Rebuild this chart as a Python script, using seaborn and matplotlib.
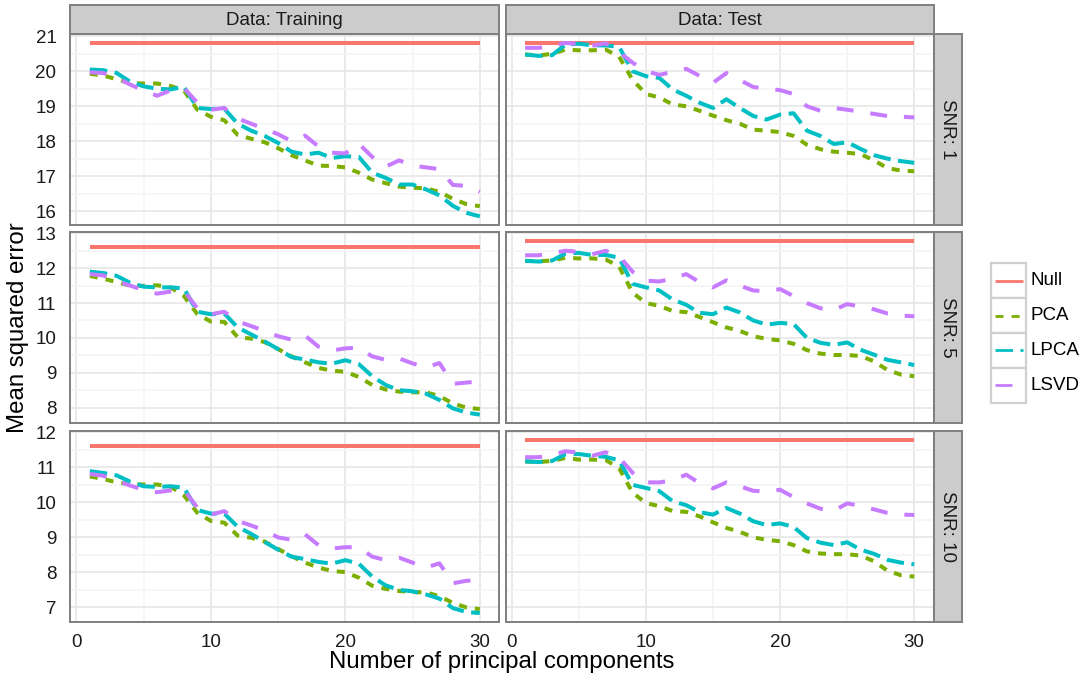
import numpy as np
import pandas as pd
import matplotlib
matplotlib.use("Agg")
import matplotlib.pyplot as plt
import seaborn as sns
from matplotlib.patches import Rectangle
from matplotlib.lines import Line2D

# ---------------- data ----------------
components = list(range(1, 31))
methods = ["Null", "PCA", "LPCA", "LSVD"]
data_sets = ["Training", "Test"]
snr_levels = [1, 5, 10]

null_train = [20.80, 12.62, 11.60]
null_test = [20.80, 12.78, 11.79]

# SNR 1
pca_train_1 = [19.93, 19.88, 19.77, 19.66, 19.65, 19.65, 19.58, 19.45, 18.90, 18.70,
               18.60, 18.18, 18.07, 17.97, 17.80, 17.60, 17.45, 17.30, 17.29, 17.25,
               17.10, 16.90, 16.80, 16.70, 16.67, 16.65, 16.55, 16.35, 16.20, 16.14]
lpca_train_1 = [20.05, 20.03, 19.95, 19.70, 19.57, 19.50, 19.48, 19.56, 18.95, 18.92,
                18.93, 18.50, 18.30, 18.15, 17.95, 17.70, 17.62, 17.67, 17.52, 17.57,
                17.55, 17.10, 16.95, 16.76, 16.76, 16.62, 16.45, 16.15, 15.95, 15.85]
lsvd_train_1 = [19.97, 19.95, 19.82, 19.62, 19.45, 19.30, 19.45, 19.52, 19.10, 18.90,
                18.95, 18.65, 18.50, 18.35, 18.20, 18.00, 18.16, 17.85, 17.67, 17.65,
                17.93, 17.55, 17.27, 17.45, 17.30, 17.25, 17.20, 16.75, 16.72, 16.55]
pca_test_1 = [20.48, 20.45, 20.50, 20.62, 20.60, 20.60, 20.62, 20.42, 19.76, 19.35,
              19.25, 19.05, 19.00, 18.87, 18.73, 18.60, 18.50, 18.33, 18.30, 18.26,
              18.15, 17.90, 17.77, 17.70, 17.67, 17.63, 17.45, 17.23, 17.16, 17.14]
lpca_test_1 = [20.48, 20.44, 20.46, 20.76, 20.79, 20.74, 20.74, 20.70, 20.00, 19.86,
               19.81, 19.48, 19.30, 19.10, 18.95, 19.20, 18.95, 18.72, 18.62, 18.76,
               18.80, 18.30, 18.15, 17.92, 17.97, 17.78, 17.60, 17.50, 17.43, 17.38]
lsvd_test_1 = [20.67, 20.67, 20.73, 20.81, 20.78, 20.73, 20.80, 20.55, 20.25, 20.00,
               19.90, 19.98, 20.07, 19.87, 19.67, 19.95, 19.75, 19.55, 19.50, 19.46,
               19.35, 19.00, 18.87, 18.95, 18.90, 18.84, 18.78, 18.72, 18.70, 18.68]

# SNR 5
pca_train_5 = [11.78, 11.70, 11.60, 11.50, 11.49, 11.51, 11.45, 11.20, 10.68, 10.47,
               10.46, 10.02, 9.98, 9.88, 9.68, 9.47, 9.30, 9.14, 9.06, 9.03,
               8.88, 8.65, 8.52, 8.46, 8.44, 8.44, 8.33, 8.12, 8.00, 7.96]
lpca_train_5 = [11.90, 11.86, 11.78, 11.58, 11.47, 11.45, 11.45, 11.42, 10.75, 10.68,
                10.70, 10.30, 10.10, 9.90, 9.68, 9.45, 9.38, 9.30, 9.26, 9.36,
                9.25, 8.90, 8.65, 8.50, 8.47, 8.40, 8.22, 7.98, 7.86, 7.80]
lsvd_train_5 = [11.83, 11.79, 11.63, 11.50, 11.37, 11.27, 11.33, 11.35, 10.85, 10.68,
                10.75, 10.47, 10.34, 10.20, 10.05, 9.95, 10.07, 9.75, 9.64, 9.70,
                9.72, 9.47, 9.37, 9.41, 9.27, 9.15, 9.28, 8.68, 8.72, 8.75]
pca_test_5 = [12.21, 12.20, 12.22, 12.30, 12.28, 12.28, 12.25, 12.05, 11.30, 11.00,
              10.92, 10.77, 10.74, 10.60, 10.45, 10.30, 10.20, 10.05, 9.97, 9.93,
              9.83, 9.65, 9.55, 9.51, 9.51, 9.48, 9.33, 9.08, 8.95, 8.90]
lpca_test_5 = [12.21, 12.19, 12.22, 12.42, 12.44, 12.38, 12.38, 12.30, 11.55, 11.45,
               11.36, 11.10, 10.95, 10.72, 10.68, 10.87, 10.73, 10.50, 10.38, 10.43,
               10.40, 10.00, 9.86, 9.80, 9.87, 9.66, 9.52, 9.37, 9.30, 9.22]
lsvd_test_5 = [12.37, 12.37, 12.43, 12.50, 12.47, 12.40, 12.50, 12.35, 11.90, 11.64,
               11.62, 11.70, 11.83, 11.60, 11.45, 11.65, 11.50, 11.36, 11.34, 11.40,
               11.20, 11.00, 10.85, 10.80, 10.97, 10.90, 10.82, 10.70, 10.64, 10.62]

# SNR 10
pca_train_10 = [10.74, 10.67, 10.57, 10.52, 10.51, 10.51, 10.45, 10.20, 9.70, 9.47,
                9.42, 9.05, 8.99, 8.88, 8.67, 8.46, 8.28, 8.14, 8.04, 8.01,
                7.85, 7.62, 7.53, 7.47, 7.44, 7.43, 7.32, 7.13, 7.00, 6.95]
lpca_train_10 = [10.89, 10.84, 10.77, 10.59, 10.46, 10.44, 10.46, 10.42, 9.78, 9.68,
                 9.68, 9.30, 9.10, 8.87, 8.65, 8.45, 8.38, 8.30, 8.25, 8.35,
                 8.25, 7.88, 7.63, 7.50, 7.46, 7.37, 7.25, 6.98, 6.87, 6.84]
lsvd_train_10 = [10.81, 10.76, 10.62, 10.48, 10.36, 10.29, 10.34, 10.36, 9.85, 9.65,
                 9.75, 9.47, 9.34, 9.20, 9.00, 8.93, 9.09, 8.78, 8.68, 8.72,
                 8.72, 8.45, 8.35, 8.42, 8.28, 8.14, 8.26, 7.69, 7.76, 7.78]
pca_test_10 = [11.17, 11.15, 11.18, 11.27, 11.22, 11.22, 11.21, 10.98, 10.28, 9.98,
               9.89, 9.75, 9.73, 9.60, 9.43, 9.27, 9.16, 9.00, 8.93, 8.89,
               8.78, 8.60, 8.54, 8.52, 8.52, 8.48, 8.32, 8.05, 7.92, 7.88]
lpca_test_10 = [11.17, 11.15, 11.18, 11.37, 11.38, 11.33, 11.30, 11.20, 10.50, 10.41,
                10.32, 10.03, 9.92, 9.72, 9.65, 9.84, 9.68, 9.46, 9.35, 9.40,
                9.30, 8.98, 8.85, 8.78, 8.86, 8.65, 8.53, 8.36, 8.28, 8.23]
lsvd_test_10 = [11.29, 11.29, 11.35, 11.46, 11.42, 11.33, 11.43, 11.28, 10.85, 10.57,
                10.57, 10.63, 10.79, 10.55, 10.40, 10.57, 10.46, 10.33, 10.31, 10.36,
                10.15, 9.97, 9.82, 9.76, 9.97, 9.90, 9.80, 9.70, 9.65, 9.64]

series = {
    (1, "Training"): (pca_train_1, lpca_train_1, lsvd_train_1),
    (1, "Test"): (pca_test_1, lpca_test_1, lsvd_test_1),
    (5, "Training"): (pca_train_5, lpca_train_5, lsvd_train_5),
    (5, "Test"): (pca_test_5, lpca_test_5, lsvd_test_5),
    (10, "Training"): (pca_train_10, lpca_train_10, lsvd_train_10),
    (10, "Test"): (pca_test_10, lpca_test_10, lsvd_test_10),
}

rows = []
for i, snr in enumerate(snr_levels):
    for ds in data_sets:
        nv = null_train[i] if ds == "Training" else null_test[i]
        pca, lpca, lsvd = series[(snr, ds)]
        for m, vals in zip(methods, ([nv] * len(components), pca, lpca, lsvd)):
            for k, v in zip(components, vals):
                rows.append({"snr": snr, "data": ds, "method": m, "k": k, "mse": v})
df = pd.DataFrame(rows)

# ---------------- style ----------------
sns.set_style("white")
plt.rcParams["font.family"] = ["Liberation Sans", "DejaVu Sans"]
plt.rcParams["lines.scale_dashes"] = False

palette = {"Null": "#F8766D", "PCA": "#7CAE00", "LPCA": "#00BFC4", "LSVD": "#C77CFF"}
dashes = {"Null": "", "PCA": (5.8, 5.8), "LPCA": (12.6, 5.4), "LSVD": (12.2, 12.2)}

W, H = 1085, 681
fig = plt.figure(figsize=(W / 100, H / 100), dpi=100)

col_x = [(70.3, 499.3), (505.7, 933.7)]
row_y = [(34.3, 225.0), (232.3, 423.3), (431.0, 621.7)]
border = "#7F7F7F"
strip_fill = "#CCCCCC"
tick_fs = 13.5


def px_rect(x0, x1, y0, y1):
    return [x0 / W, 1 - y1 / H, (x1 - x0) / W, (y1 - y0) / H]


for i, snr in enumerate(snr_levels):
    sub_row = df[df.snr == snr]
    lo, hi = sub_row.mse.min(), sub_row.mse.max()
    pad = 0.05 * (hi - lo)
    ylo, yhi = lo - pad, hi + pad
    for j, ds in enumerate(data_sets):
        ax = fig.add_axes(px_rect(col_x[j][0], col_x[j][1], row_y[i][0], row_y[i][1]))
        sub = sub_row[sub_row.data == ds]
        sns.lineplot(data=sub, x="k", y="mse", hue="method", style="method",
                     hue_order=methods, style_order=methods, palette=palette,
                     dashes=dashes, linewidth=2.9, legend=False, ax=ax)
        for ln in ax.get_lines():
            ln.set_solid_capstyle("butt")
            ln.set_dash_capstyle("butt")
        ax.set_xlim(-0.45, 31.45)
        ax.set_ylim(ylo, yhi)
        ax.set_xticks([0, 10, 20, 30])
        ax.set_xticks([5, 15, 25], minor=True)
        yt = np.arange(np.ceil(ylo), np.floor(yhi) + 1)
        ax.set_yticks(yt)
        ym = np.arange(np.ceil(ylo * 2) / 2, yhi, 1.0)
        ym = [v for v in np.arange(np.floor(ylo) + 0.5, yhi, 1.0) if v > ylo]
        ax.set_yticks(ym, minor=True)
        ax.set_facecolor("white")
        ax.grid(which="major", color="#E8E8E8", linewidth=1.3)
        ax.grid(which="minor", color="#F6F6F6", linewidth=1.3)
        ax.set_axisbelow(True)
        for s in ax.spines.values():
            s.set_color(border)
            s.set_linewidth(1.4)
        ax.set_xlabel("")
        ax.set_ylabel("")
        ax.tick_params(which="minor", length=0)
        ax.tick_params(which="major", length=6, width=1.2, color="#333333",
                       labelsize=tick_fs, labelcolor="#1A1A1A", direction="out")
        ax.tick_params(axis="y", pad=4)
        ax.tick_params(axis="x", pad=3)
        if j != 0:
            ax.tick_params(axis="y", length=0, labelleft=False)
        else:
            ax.set_yticklabels([f"{int(v)}" for v in yt])
        if i != len(snr_levels) - 1:
            ax.tick_params(axis="x", length=0, labelbottom=False)

# top strips
for j, ds in enumerate(data_sets):
    sa = fig.add_axes(px_rect(col_x[j][0], col_x[j][1], 5.3, row_y[0][0]))
    sa.set_facecolor(strip_fill)
    sa.set_xticks([]); sa.set_yticks([])
    for s in sa.spines.values():
        s.set_color(border); s.set_linewidth(1.4)
    sa.text(0.5, 0.47, f"Data: {ds}", ha="center", va="center",
            fontsize=tick_fs, color="#1A1A1A", transform=sa.transAxes)

# right strips
for i, snr in enumerate(snr_levels):
    sa = fig.add_axes(px_rect(col_x[1][1], 962.0, row_y[i][0], row_y[i][1]))
    sa.set_facecolor(strip_fill)
    sa.set_xticks([]); sa.set_yticks([])
    for s in sa.spines.values():
        s.set_color(border); s.set_linewidth(1.4)
    sa.text(0.5, 0.5, f"SNR: {snr}", ha="center", va="center", rotation=-90,
            fontsize=tick_fs, color="#1A1A1A", transform=sa.transAxes)

# axis titles
fig.text((col_x[0][0] + col_x[1][1]) / 2 / W, 1 - 662 / H, "Number of principal components",
         ha="center", va="center", fontsize=17.3, color="black")
fig.text(18 / W, 1 - (row_y[0][0] + row_y[2][1]) / 2 / H, "Mean squared error",
         ha="center", va="center", rotation=90, fontsize=17.3, color="black")

# legend (ggplot style keys)
lg = fig.add_axes([985 / W, 1 - 410 / H, 100 / W, 155 / H])
lg.set_xlim(985, 1085)
lg.set_ylim(410, 255)
lg.axis("off")
key_w, key_h = 35.0, 34.8
top = 263.3
legend_dashes = {"Null": None, "PCA": (5.8, 5.8), "LPCA": (12.6, 5.4), "LSVD": (12.2, 12.2)}
for n, m in enumerate(methods):
    y0 = top + n * key_h
    lg.add_patch(Rectangle((991, y0), key_w, key_h, facecolor="white",
                           edgecolor="#D0D0D0", linewidth=1.6))
    ln = Line2D([995, 1023], [y0 + key_h / 2] * 2, color=palette[m], linewidth=2.0,
                solid_capstyle="butt", dash_capstyle="butt")
    if legend_dashes[m] is not None:
        ln.set_dashes(legend_dashes[m])
    lg.add_line(ln)
    lg.text(1031, y0 + key_h / 2, m, ha="left", va="center", fontsize=tick_fs, color="black")

fig.savefig("out.png", dpi=100)
